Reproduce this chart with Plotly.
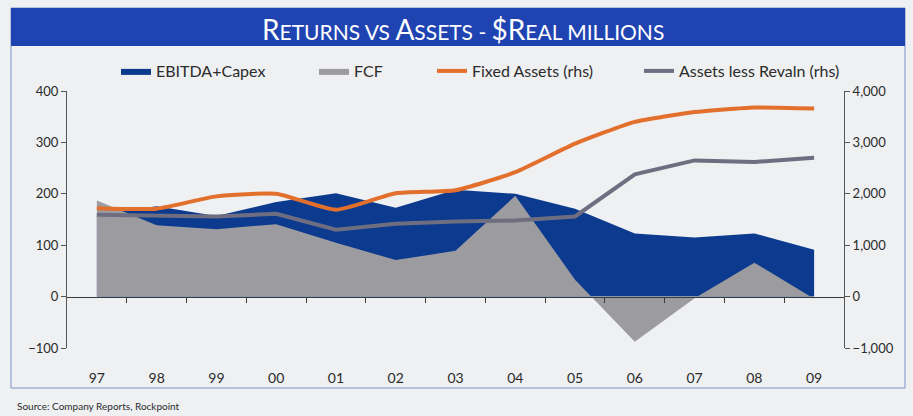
import plotly.graph_objects as go

years = ['97', '98', '99', '00', '01', '02', '03', '04', '05', '06', '07', '08', '09']
ebitda_capex = [160, 176, 157, 184, 201, 173, 208, 200, 171, 123, 115, 123, 91]
fcf = [187, 139, 131, 141, 105, 71, 89, 196, 33, -88, -3, 66, -4]
fixed_assets = [1720, 1710, 1950, 2000, 1690, 2010, 2070, 2420, 2975, 3400, 3590, 3680, 3660]
assets_less_revaln = [1590, 1580, 1560, 1610, 1300, 1415, 1460, 1480, 1560, 2380, 2650, 2620, 2700]
left_ticks = [-100, 0, 100, 200, 300, 400]
right_ticks = [-1000, 0, 1000, 2000, 3000, 4000]

W, H = 913, 416
# paper area = chart frame
FL, FR, FT, FB = 11, 905, 8, 388
PL, PR, PT, PB = 67, 844, 91, 348   # plot area in pixels
BG = '#eef0f2'
FONT = 'Lato'
TXT = '#2b2b2b'


def px_x(p):
    return (p - FL) / (FR - FL)


def px_y(p):
    return (FB - p) / (FB - FT)


fig = go.Figure()
fig.add_trace(go.Scatter(x=years, y=ebitda_capex, name='EBITDA+Capex', mode='lines',
                         line=dict(width=0, color='#0b3a8e'), fill='tozeroy',
                         fillcolor='#0b3a8e', legend='legend'))
fig.add_trace(go.Scatter(x=years, y=fcf, name='FCF', mode='lines',
                         line=dict(width=0, color='#9c9ca0'), fill='tozeroy',
                         fillcolor='#9c9ca0', legend='legend2'))
fig.add_trace(go.Scatter(x=years, y=fixed_assets, name='Fixed Assets (rhs)', mode='lines',
                         line=dict(width=4, color='#e2702c', shape='spline', smoothing=0.5),
                         yaxis='y2', legend='legend3'))
fig.add_trace(go.Scatter(x=years, y=assets_less_revaln, name='Assets less Revaln (rhs)', mode='lines',
                         line=dict(width=4, color='#6e6e80'),
                         yaxis='y2', legend='legend4'))
# dummy trace to activate the zero-line axis
fig.add_trace(go.Scatter(x=[0], y=[None], xaxis='x2', showlegend=False, hoverinfo='skip'))

legend_common = dict(orientation='h', xanchor='left', yanchor='middle', bgcolor='rgba(0,0,0,0)',
                     font=dict(family=FONT, size=16, color=TXT), itemwidth=30,
                     tracegroupgap=0, itemclick=False)
leg_x = [116, 314, 432, 639]
leg_y = 71
fig.update_layout(
    legend=dict(x=px_x(leg_x[0]), y=px_y(leg_y), **legend_common),
    legend2=dict(x=px_x(leg_x[1]), y=px_y(leg_y), **legend_common),
    legend3=dict(x=px_x(leg_x[2]), y=px_y(leg_y), **legend_common),
    legend4=dict(x=px_x(leg_x[3]), y=px_y(leg_y), **legend_common),
)

xdom = [px_x(PL), px_x(PR)]
ydom = [px_y(PB), px_y(PT)]
zero_pos = ydom[0] + (ydom[1] - ydom[0]) * (0 - (-100)) / 500

fig.update_layout(
    width=W, height=H,
    margin=dict(l=FL, r=W - FR, t=FT, b=H - FB, autoexpand=False),
    paper_bgcolor=BG, plot_bgcolor=BG,
    font=dict(family=FONT, color=TXT, size=12),
    showlegend=True,
    xaxis=dict(type='category', categoryarray=years, range=[-0.5, 12.5], domain=xdom,
               showline=False, showgrid=False, zeroline=False,
               ticks='outside', ticklen=17, tickcolor='rgba(0,0,0,0)',
               tickfont=dict(family=FONT, size=14, color=TXT)),
    xaxis2=dict(overlaying='x', anchor='free', position=zero_pos, range=[-0.5, 12.5],
                domain=xdom,
                tickvals=[i + 0.5 for i in range(12)], ticks='outside', ticklen=5,
                tickcolor='#3a3a3a', showticklabels=False, showline=True,
                linecolor='#3a3a3a', linewidth=1, showgrid=False, zeroline=False),
    yaxis=dict(range=[-100, 400], domain=ydom, tickvals=left_ticks, showgrid=False,
               zeroline=False, showline=True, linecolor='#555', linewidth=1,
               ticks='outside', ticklen=5, tickcolor='#555',
               tickfont=dict(family=FONT, size=13, color=TXT)),
    yaxis2=dict(range=[-1000, 4000], tickvals=right_ticks, tickformat=',', overlaying='y',
                side='right', showgrid=False, zeroline=False, showline=True,
                linecolor='#555', linewidth=1, ticks='outside', ticklen=5,
                tickcolor='#555', tickfont=dict(family=FONT, size=13, color=TXT)),
)

# frame and title bar
fig.add_shape(type='rect', xref='paper', yref='paper', x0=0, x1=1, y0=0, y1=1,
              line=dict(color='#7d92c8', width=1), fillcolor='rgba(0,0,0,0)', layer='below')
fig.add_shape(type='rect', xref='paper', yref='paper', x0=0, x1=1,
              y0=px_y(46), y1=1, line=dict(width=0), fillcolor='#1f44b2', layer='below')

big = "<span style='font-size:28px'>{}</span>"
title = (big.format('R') + 'ETURNS VS ' + big.format('A') + 'SSETS - ' + big.format('$')
         + big.format('R') + 'EAL MILLIONS')
fig.add_annotation(text=title, xref='paper', yref='paper', x=px_x(463), y=px_y(29),
                   xanchor='center', yanchor='middle', showarrow=False,
                   font=dict(family=FONT, size=21, color='white'))
fig.add_annotation(text='Source: Company Reports, Rockpoint', xref='paper', yref='paper',
                   x=px_x(15), y=px_y(406), xanchor='left', yanchor='middle', showarrow=False,
                   font=dict(family=FONT, size=10, color=TXT))

fig.write_html('out.html', config={'displayModeBar': False},
               post_script="document.body.style.margin='0';document.body.style.overflow='hidden';")
